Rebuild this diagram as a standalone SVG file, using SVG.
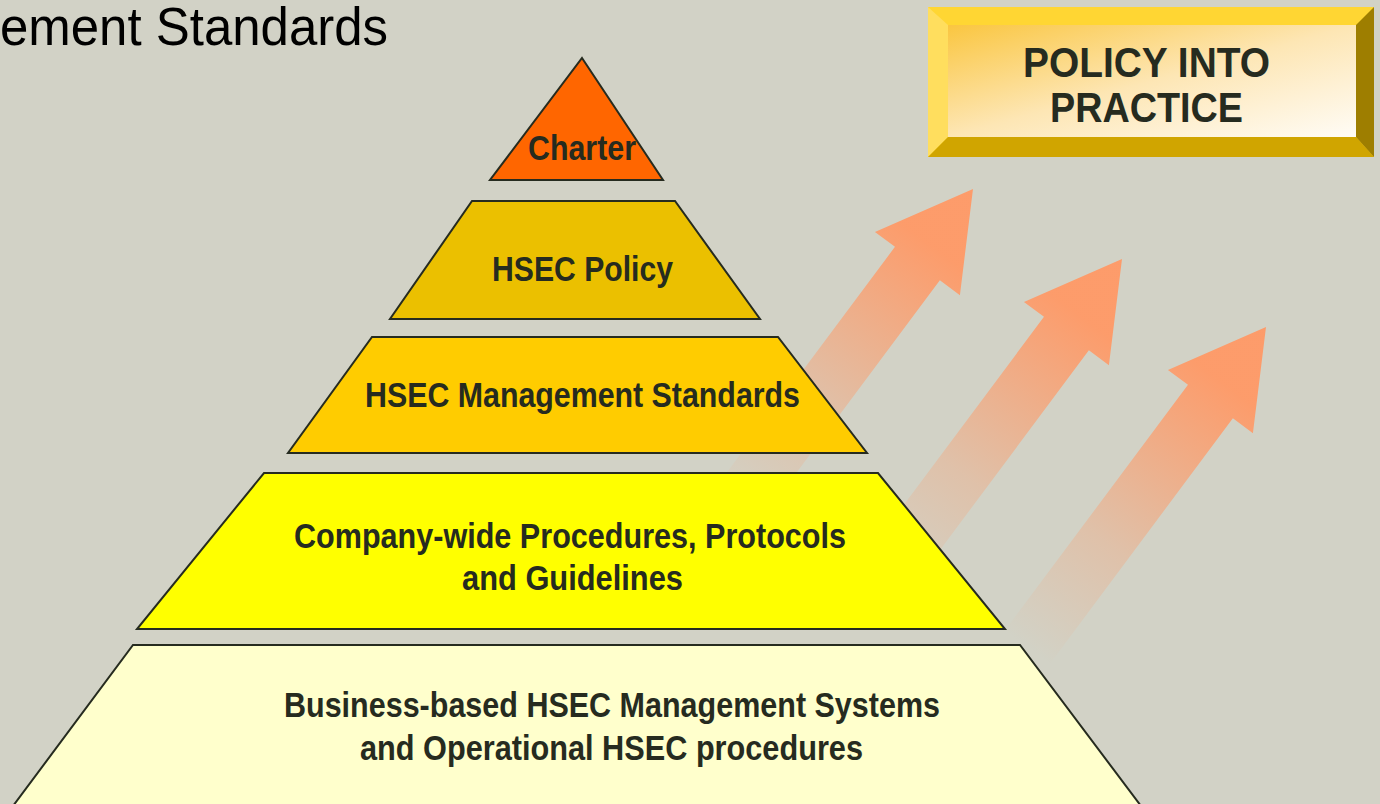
<svg xmlns="http://www.w3.org/2000/svg" width="1380" height="804" viewBox="0 0 1380 804">
  <defs>
    <linearGradient id="arrowGrad" gradientUnits="userSpaceOnUse" x1="-400" y1="0" x2="-70" y2="0">
      <stop offset="0" stop-color="#FF9966" stop-opacity="0"/>
      <stop offset="0.4" stop-color="#FF9966" stop-opacity="0.3"/>
      <stop offset="1" stop-color="#FF9966" stop-opacity="0.95"/>
    </linearGradient>
    <linearGradient id="faceGrad" x1="0" y1="0" x2="1" y2="1">
      <stop offset="0" stop-color="#FAC640"/>
      <stop offset="0.5" stop-color="#FDE6B4"/>
      <stop offset="1" stop-color="#FFFCF6"/>
    </linearGradient>
    <path id="arrowShape" d="M0,0 L-93,-53 L-93,-28 L-400,-28 L-400,28 L-93,28 L-93,53 Z"/>
  </defs>
  <style>
    .layer { stroke: #262B1F; stroke-width: 2; stroke-linejoin: miter; }
    .lbl { font-family: "Liberation Sans", Arial, sans-serif; font-weight: bold; font-size: 35px; fill: #262B1F; text-anchor: middle; }
    .big { font-family: "Liberation Sans", Arial, sans-serif; font-weight: bold; font-size: 43px; fill: #262B1F; text-anchor: middle; }
    .title { font-family: "Liberation Sans", Arial, sans-serif; font-size: 54px; fill: #000000; }
  </style>

  <rect x="0" y="0" width="1380" height="804" fill="#D2D2C6"/>

  <text class="title" x="0" y="45" textLength="388" lengthAdjust="spacingAndGlyphs">ement Standards</text>

  <g id="connectors">
    <use href="#arrowShape" fill="url(#arrowGrad)" transform="translate(973,189) rotate(-53.3)"/>
    <use href="#arrowShape" fill="url(#arrowGrad)" transform="translate(1122,259) rotate(-53.3)"/>
    <use href="#arrowShape" fill="url(#arrowGrad)" transform="translate(1266,327) rotate(-53.3)"/>
  </g>

  <g id="charter">
    <polygon class="layer" points="582,58 663,180 490,180" fill="#FF6600"/>
    <text class="lbl" x="582" y="160" textLength="108" lengthAdjust="spacingAndGlyphs">Charter</text>
  </g>

  <g id="hsec-policy">
    <polygon class="layer" points="472,201 675,201 760,319 390,319" fill="#EBC000"/>
    <text class="lbl" x="582.5" y="281" textLength="181" lengthAdjust="spacingAndGlyphs">HSEC Policy</text>
  </g>

  <g id="hsec-standards">
    <polygon class="layer" points="372,337 778,337 867,453 288,453" fill="#FFCC00"/>
    <text class="lbl" x="582.5" y="407" textLength="435" lengthAdjust="spacingAndGlyphs">HSEC Management Standards</text>
  </g>

  <g id="company-wide">
    <polygon class="layer" points="264,473 878,473 1005,629 137,629" fill="#FFFF00"/>
    <text class="lbl" x="570" y="548" textLength="552" lengthAdjust="spacingAndGlyphs">Company-wide Procedures, Protocols</text>
    <text class="lbl" x="572.5" y="590" textLength="221" lengthAdjust="spacingAndGlyphs">and Guidelines</text>
  </g>

  <g id="business-based">
    <polygon class="layer" points="133,645 1020,645 1141,806 13,806" fill="#FFFFCC"/>
    <text class="lbl" x="612" y="717" textLength="656" lengthAdjust="spacingAndGlyphs">Business-based HSEC Management Systems</text>
    <text class="lbl" x="611.5" y="760" textLength="503" lengthAdjust="spacingAndGlyphs">and Operational HSEC procedures</text>
  </g>

  <g id="policy-into-practice">
    <rect x="928" y="7" width="446" height="150" fill="#FFD633"/>
    <polygon points="928,7 948,25 948,137 928,157" fill="#FFDE5E"/>
    <polygon points="928,157 948,137 1356,137 1374,157" fill="#D0A500"/>
    <polygon points="1374,7 1374,157 1356,137 1356,25" fill="#9E7E00"/>
    <rect x="948" y="25" width="408" height="112" fill="url(#faceGrad)"/>
    <text class="big" x="1146.5" y="77" textLength="247" lengthAdjust="spacingAndGlyphs">POLICY INTO</text>
    <text class="big" x="1146.5" y="122" textLength="193" lengthAdjust="spacingAndGlyphs">PRACTICE</text>
  </g>
</svg>
